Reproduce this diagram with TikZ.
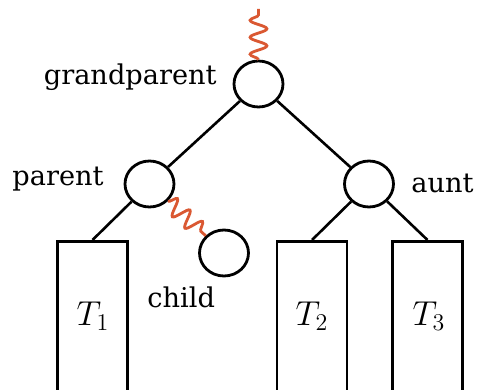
\documentclass[tikz,border=0pt]{standalone}
\usepackage{fontspec}
\setmainfont{DejaVu Serif}
\usetikzlibrary{decorations.pathmorphing,shapes.geometric}
\definecolor{wavy}{RGB}{218,88,50}
\begin{document}
\begin{tikzpicture}[x=0.5pt,y=-0.5pt,
  every node/.style={font=\fontsize{13.6}{16}\selectfont},
  vert/.style={draw,ellipse,line width=1.4pt,minimum width=24.5pt,minimum height=23pt,inner sep=0pt},
  tree/.style={draw,rectangle,line width=1.4pt,minimum width=35pt,minimum height=100pt,anchor=north,inner sep=0pt},
  edge/.style={line width=1.3pt},
  wave/.style={draw=wavy,line width=1.4pt,decorate,decoration={snake,amplitude=4.2pt,segment length=8.5pt}},
  lbl/.style={inner sep=0pt},
  mlbl/.style={inner sep=0pt,font=\fontsize{17.5}{20}\selectfont}]
\useasboundingbox (0,0) rectangle (488,390);
\clip (0,0) rectangle (488,390);
\node[vert] (gp) at (258.5,84) {};
\node[vert] (p) at (149.5,184) {};
\node[vert] (a) at (369,184) {};
\node[vert] (c) at (224,253) {};
\node[tree] (t1) at (92.5,240) {};
\node[tree] (t2) at (312,240) {};
\node[tree] (t3) at (427.5,240) {};
\coordinate (top) at (258.5,9);
\draw[edge] (gp) -- (p);
\draw[edge] (gp) -- (a);
\draw[edge] (p) -- (t1.north);
\draw[edge] (a) -- (t2.north);
\draw[edge] (a) -- (t3.north);
\draw[wave] (gp.north) -- (top);
\draw[wave] (p.south east) -- (c.north west);
\node[lbl,anchor=base east] (lgp) at (217,85) {grandparent};
\node[lbl,anchor=base west] (lp) at (12,186) {parent};
\node[lbl,anchor=base west] (la) at (411,192) {aunt};
\node[lbl,anchor=base west] (lc) at (147,307) {child};
\node[mlbl,anchor=base] (l1) at (93,325) {$T_1$};
\node[mlbl,anchor=base] (l2) at (312,325) {$T_2$};
\node[mlbl,anchor=base] (l3) at (429,325) {$T_3$};
\end{tikzpicture}
\end{document}
